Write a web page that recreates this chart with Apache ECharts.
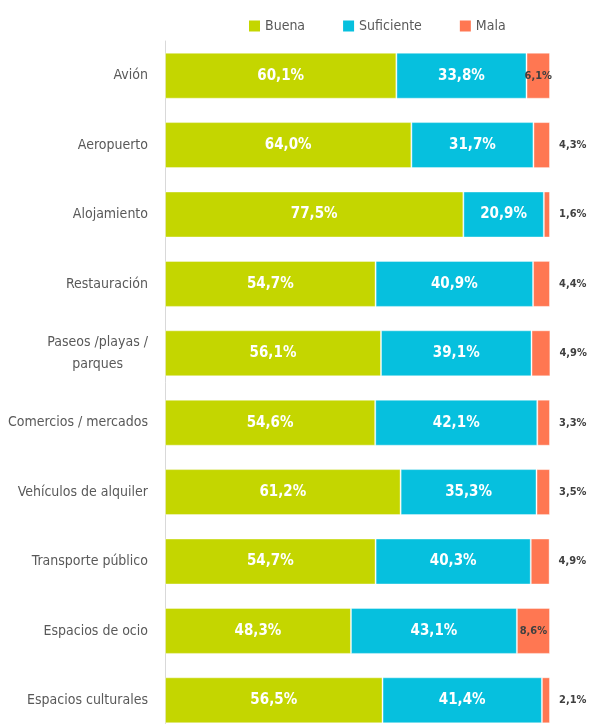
<!DOCTYPE html>
<html>
<head>
<meta charset="utf-8">
<script src="https://cdn.jsdelivr.net/npm/echarts@6/dist/echarts.min.js"></script>
<style>
  html, body { margin: 0; padding: 0; background: #fff; }
  #chart { width: 589px; height: 724px; }
</style>
</head>
<body>
<div id="chart"></div>
<script>
var categories = ['Avión', 'Aeropuerto', 'Alojamiento', 'Restauración', 'Paseos /playas /\nparques',
  'Comercios / mercados', 'Vehículos de alquiler', 'Transporte público', 'Espacios de ocio', 'Espacios culturales'];
var buena = [60.1, 64.0, 77.5, 54.7, 56.1, 54.6, 61.2, 54.7, 48.3, 56.5];
var suficiente = [33.8, 31.7, 20.9, 40.9, 39.1, 42.1, 35.3, 40.3, 43.1, 41.4];
var mala = [6.1, 4.3, 1.6, 4.4, 4.9, 3.3, 3.5, 4.9, 8.6, 2.1];

var font = "'Liberation Sans Narrow', 'DejaVu Sans Condensed', sans-serif";

function pct(v) {
  return v.toFixed(1).replace('.', ',') + '%';
}

var innerLabel = {
  show: true,
  position: 'inside',
  color: '#fff',
  fontFamily: font,
  fontWeight: 'bold',
  fontSize: 15,
  formatter: function(p) { return pct(p.value); }
};

// Mala: etiqueta fuera salvo en las barras anchas
var malaData = mala.map(function(v) {
  var inside = v > 6;
  return {
    value: v,
    label: {
      show: true,
      position: inside ? 'inside' : 'right',
      distance: 9,
      color: '#404040',
      fontFamily: font,
      fontWeight: 'bold',
      fontSize: 11,
      formatter: function(p) { return pct(p.value); }
    }
  };
});

var chart = echarts.init(document.getElementById('chart'));
chart.setOption({
  animation: false,
  textStyle: { fontFamily: font },
  legend: {
    top: 14,
    left: 244,
    icon: 'rect',
    itemWidth: 11,
    itemHeight: 11,
    itemGap: 38,
    itemStyle: { borderWidth: 0 },
    textStyle: { color: '#595959', fontSize: 14, fontFamily: font },
    data: ['Buena', 'Suficiente', 'Mala']
  },
  grid: { left: 165, right: 39, top: 41, height: 694, outerBoundsMode: 'none' },
  xAxis: { type: 'value', min: 0, max: 100, show: false },
  yAxis: {
    type: 'category',
    inverse: true,
    data: categories,
    axisLine: { show: true, lineStyle: { color: '#d9d9d9' } },
    axisTick: { show: false },
    axisLabel: {
      margin: 17,
      color: '#595959',
      fontSize: 14,
      fontFamily: font,
      formatter: function(v) {
        return v.split('\n').map(function(s) { return '{a|' + s + '}'; }).join('\n');
      },
      rich: { a: { align: 'center', fontSize: 14, lineHeight: 22, color: '#595959', fontFamily: font } }
    }
  },
  series: [
    { name: 'Buena', type: 'bar', stack: 't', barWidth: 46, data: buena,
      itemStyle: { color: '#c4d600', borderColor: 'rgba(255,255,255,0.4)', borderWidth: 1 }, label: innerLabel },
    { name: 'Suficiente', type: 'bar', stack: 't', data: suficiente,
      itemStyle: { color: '#06c0de', borderColor: 'rgba(255,255,255,0.4)', borderWidth: 1 }, label: innerLabel },
    { name: 'Mala', type: 'bar', stack: 't', data: malaData,
      itemStyle: { color: '#ff7752', borderColor: 'rgba(255,255,255,0.4)', borderWidth: 1 } }
  ]
});
</script>
</body>
</html>
